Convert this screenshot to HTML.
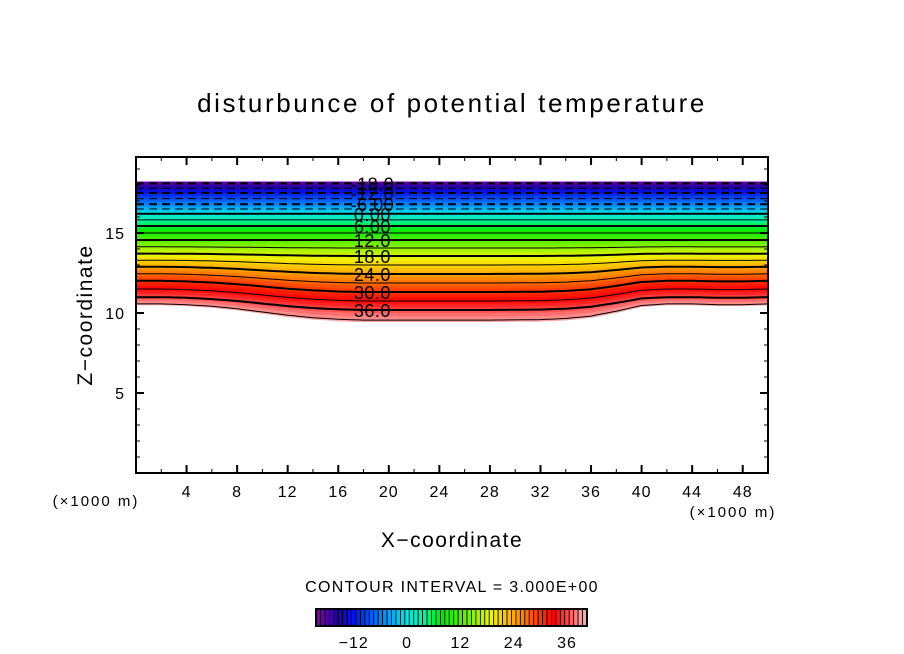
<!DOCTYPE html>
<html><head><meta charset="utf-8"><style>
body{margin:0;background:#fff;}
svg{display:block;font-family:"Liberation Sans",sans-serif;}
</style></head><body>
<svg id="c" width="904" height="654" xmlns="http://www.w3.org/2000/svg">
<text x="452" y="112" text-anchor="middle" font-size="26" letter-spacing="2.6">disturbunce of potential temperature</text>
<g id="plot"></g>
<text x="452" y="547" text-anchor="middle" font-size="21" letter-spacing="1.5">X−coordinate</text>
<text transform="translate(92,315) rotate(-90)" text-anchor="middle" font-size="21" letter-spacing="1.5">Z−coordinate</text>
<text x="96" y="506" text-anchor="middle" font-size="15" letter-spacing="2">(×1000 m)</text>
<text x="733" y="517" text-anchor="middle" font-size="15" letter-spacing="2">(×1000 m)</text>
<text x="452" y="592" text-anchor="middle" font-size="16" letter-spacing="1.3">CONTOUR INTERVAL = 3.000E+00</text>
<g id="cbar"></g>
</svg>
<script>
const NS="http://www.w3.org/2000/svg";
// data
const levelValues=[-20,-18,-12,-6,0,6,12,18,24,30,36,39.5];
const levelCenterZ=[18.2,18.1,17.5,16.8,16.2,15.44,14.56,13.56,12.44,11.31,10.19,9.45];
const levelEdgeLift=[0,0,0,0,0,0,0,0.15,0.45,0.7,0.8,1.05];
const profileX=[0,2,4,6,8,10,12,14,16,18,20,24,28,32,34,36,38,40,42,44,46,48,50];
const profileShape=[0,0,0.05,0.15,0.3,0.5,0.7,0.85,0.95,1,1,1,1,0.97,0.9,0.75,0.45,0.1,0,0,0.05,0.05,0];
const xTicks=[4,8,12,16,20,24,28,32,36,40,44,48];
const yTicks=[5,10,15];
const cbarTicks=[-12,0,12,24,36];
const labelLevels=[-18,-12,-6,0,6,12,18,24,30,36];
const labelText=["-18.0","-12.0","-6.00","0.00","6.00","12.0","18.0","24.0","30.0","36.0"];

const X0=136,X1=768,Y0=473,Y1=157,XMAX=50,ZMAX=19.75;
const sx=x=>X0+(X1-X0)*x/XMAX;
const sy=z=>Y0-(Y0-Y1)*z/ZMAX;
function interp(xa,ya,x){for(let i=0;i<xa.length-1;i++){if(x<=xa[i+1]){const t=(x-xa[i])/(xa[i+1]-xa[i]);return ya[i]+t*(ya[i+1]-ya[i]);}}return ya[ya.length-1];}
function levelZ(v,x){
  const s=interp(profileX,profileShape,x);
  const zs=levelValues.map((L,i)=>levelCenterZ[i]+levelEdgeLift[i]*(1-s));
  return interp(levelValues,zs,v);
}
const stops=[[-20,[128,0,176]],[-16,[40,0,160]],[-12,[0,20,230]],[-6,[0,130,255]],[0,[0,230,230]],[4,[0,245,150]],[8,[0,235,0]],[14,[120,240,0]],[19,[240,245,0]],[24,[255,170,0]],[29,[255,70,0]],[33,[255,0,0]],[36,[255,70,70]],[39.5,[255,165,165]]];
function col(v){for(let i=0;i<stops.length-1;i++){if(v<=stops[i+1][0]){const t=(v-stops[i][0])/(stops[i+1][0]-stops[i][0]);const a=stops[i][1],b=stops[i+1][1];return `rgb(${a.map((c,k)=>Math.round(c+t*(b[k]-c))).join(',')})`;}}return 'rgb(255,165,165)';}
const plot=document.getElementById('plot');
const xs=[];for(let x=0;x<=XMAX;x+=0.5)xs.push(x);
for(let v=-20;v<39.5;v+=1){
  const v2=Math.min(v+1,39.5);
  let pts=xs.map(x=>sx(x).toFixed(1)+','+sy(levelZ(v,x)).toFixed(1));
  pts=pts.concat(xs.slice().reverse().map(x=>sx(x).toFixed(1)+','+sy(levelZ(v2,x)).toFixed(1)));
  const p=document.createElementNS(NS,'polygon');
  p.setAttribute('points',pts.join(' '));
  p.setAttribute('fill',col(v+0.5));p.setAttribute('stroke',col(v+0.5));p.setAttribute('stroke-width','0.6');
  
  
  plot.appendChild(p);
}
for(let v=-18;v<=39;v+=3){
  const pl=document.createElementNS(NS,'polyline');
  pl.setAttribute('points',xs.map(x=>sx(x).toFixed(1)+','+sy(levelZ(v,x)).toFixed(1)).join(' '));
  pl.setAttribute('fill','none');pl.setAttribute('stroke','#000');
  pl.setAttribute('stroke-width',v%6===0?'2':'1');
  if(v<0)pl.setAttribute('stroke-dasharray','8,5');
  
  
  plot.appendChild(pl);
}
labelLevels.forEach((v,i)=>{
  const t=document.createElementNS(NS,'text');
  t.setAttribute('x',sx(18.7));t.setAttribute('y',sy(levelZ(v,18.7))+7);
  t.setAttribute('text-anchor','middle');t.setAttribute('font-size','18');t.setAttribute('letter-spacing','0.5');
  t.textContent=labelText[i];
  
  
  plot.appendChild(t);
});
const fr=document.createElementNS(NS,'rect');
fr.setAttribute('x',X0);fr.setAttribute('y',Y1);fr.setAttribute('width',X1-X0);fr.setAttribute('height',Y0-Y1);
fr.setAttribute('fill','none');fr.setAttribute('stroke','#000');fr.setAttribute('stroke-width','2');


plot.appendChild(fr);
function line(x1,y1,x2,y2,w,name){const l=document.createElementNS(NS,'line');l.setAttribute('x1',x1);l.setAttribute('y1',y1);l.setAttribute('x2',x2);l.setAttribute('y2',y2);l.setAttribute('stroke','#000');l.setAttribute('stroke-width',w);


plot.appendChild(l);}
for(let x=2;x<XMAX;x+=2){const m=x%4===0;const L=m?8:4;line(sx(x),Y0,sx(x),Y0-L,m?2:1,'x-tick');line(sx(x),Y1,sx(x),Y1+L,m?2:1,'x-tick-top');}
for(let z=1;z<ZMAX;z+=1){const m=z%5===0;const L=m?8:4;line(X0,sy(z),X0+L,sy(z),m?2:1,'y-tick');line(X1,sy(z),X1-L,sy(z),m?2:1,'y-tick-right');}
xTicks.forEach(x=>{const t=document.createElementNS(NS,'text');t.setAttribute('x',sx(x));t.setAttribute('y',497);t.setAttribute('text-anchor','middle');t.setAttribute('font-size','16');t.setAttribute('letter-spacing','1');t.textContent=x;


plot.appendChild(t);});
yTicks.forEach(z=>{const t=document.createElementNS(NS,'text');t.setAttribute('x',125);t.setAttribute('y',sy(z)+6);t.setAttribute('text-anchor','end');t.setAttribute('font-size','16');t.setAttribute('letter-spacing','1');t.textContent=z;


plot.appendChild(t);});
const cb=document.getElementById('cbar');
const CB0=316,CB1=587,CV0=-20.5,CV1=40.5;
const cx=v=>CB0+(CB1-CB0)*(v-CV0)/(CV1-CV0);
for(let v=-20.5;v<40.5;v+=1){
  const r=document.createElementNS(NS,'rect');
  r.setAttribute('x',cx(v));r.setAttribute('y',609);r.setAttribute('width',cx(v+1)-cx(v));r.setAttribute('height',17);
  r.setAttribute('fill',col(Math.min(v+0.5,39.5)));r.setAttribute('stroke','#000');r.setAttribute('stroke-width','0.8');
  
  
  cb.appendChild(r);
}
const cbf=document.createElementNS(NS,'rect');
cbf.setAttribute('x',CB0);cbf.setAttribute('y',609);cbf.setAttribute('width',CB1-CB0);cbf.setAttribute('height',17);
cbf.setAttribute('fill','none');cbf.setAttribute('stroke','#000');cbf.setAttribute('stroke-width','2');


cb.appendChild(cbf);
cbarTicks.forEach(v=>{const t=document.createElementNS(NS,'text');t.setAttribute('x',cx(v));t.setAttribute('y',648);t.setAttribute('text-anchor','middle');t.setAttribute('font-size','16');t.setAttribute('letter-spacing','1');t.textContent=v<0?'−'+(-v):v;


cb.appendChild(t);});
</script>
</body></html>
